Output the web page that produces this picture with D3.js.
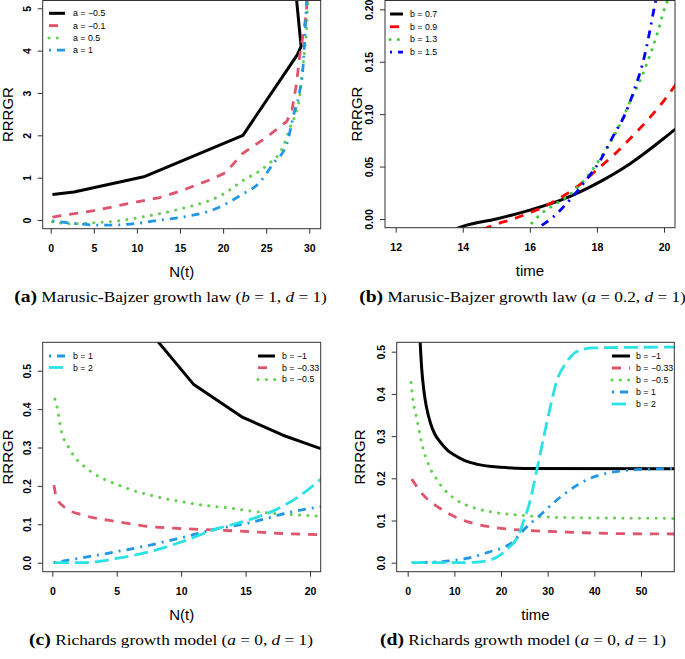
<!DOCTYPE html>
<html><head><meta charset="utf-8">
<script src="https://cdn.jsdelivr.net/npm/d3@7"></script>
<style>body{margin:0;background:#fff}svg{display:block}</style>
</head><body>
<svg id="chart" width="685" height="659"></svg>
<script>
// ---------------- DATA ----------------
// Panel (a): Marusic-Bajzer growth law (b = 1, d = 1), x = N(t)
const aLabels = ["a = \u22120.5", "a = \u22120.1", "a = 0.5", "a = 1"];
const aSerM05 = [[0.2,0.6],[2.7,0.66],[10.8,1.02],[22.3,2.0],[28.6,3.9],[29.05,4.1],[27.9,6.5]];
const aSerM01 = [[0.2,0.07],[5,0.22],[10,0.43],[12.5,0.52],[15,0.68],[18.5,0.95],[20.3,1.12],[22.2,1.56],[25,1.95],[27.4,2.33],[28,2.6],[28.5,3.2],[28.9,3.9],[29.3,4.4],[29.6,4.8],[29.85,5.4]];
const aSer05 = [[0.2,-0.04],[2.3,-0.09],[5.3,-0.06],[7.5,-0.03],[10,0.05],[15,0.26],[20,0.61],[22.3,0.93],[25,1.28],[27,1.75],[27.8,2.2],[28.4,2.5],[28.9,2.95],[29.1,3.3],[29.5,4.1],[29.7,4.55],[29.85,5.4]];
const aSer1 = [[0.2,-0.02],[2.6,-0.08],[5.7,-0.12],[6.8,-0.12],[10,-0.08],[12.7,0.0],[15,0.06],[19.2,0.27],[22,0.58],[24.3,0.9],[25.8,1.33],[27.4,1.8],[28.2,2.5],[28.8,2.95],[29.3,3.7],[29.5,4.4],[29.75,5.4]];
const aXTicks = [0,5,10,15,20,25,30];
const aYTicks = [0,1,2,3,4,5];

// Panel (b): Marusic-Bajzer growth law (a = 0.2, d = 1), x = time
const bLabels = ["b = 0.7", "b = 0.9", "b = 1.3", "b = 1.5"];
const bSer07 = [[13.6,-0.012],[14,-0.007],[15,0.0],[16,0.0085],[17,0.019],[18,0.034],[19,0.053],[20,0.077],[20.5,0.09]];
const bSer09 = [[14.6,-0.01],[15,-0.005],[15.5,0.0],[16,0.006],[16.5,0.013],[17,0.022],[17.5,0.033],[18,0.047],[18.5,0.061],[19,0.077],[19.5,0.094],[20,0.113],[20.5,0.135]];
const bSer13 = [[15.9,-0.01],[16.3,0.004],[16.7,0.013],[17.1,0.021],[17.7,0.04],[18.2,0.063],[18.7,0.091],[19,0.113],[19.3,0.133],[19.6,0.158],[19.8,0.177],[20.03,0.202],[20.2,0.215]];
const bSer15 = [[16.15,-0.01],[16.7,0.002],[17.1,0.015],[17.6,0.034],[18.1,0.056],[18.5,0.08],[18.84,0.1],[19.1,0.122],[19.4,0.153],[19.55,0.175],[19.7,0.2],[19.8,0.215]];
const bXTicks = [12,14,16,18,20];
const bYTicks = [0,0.05,0.1,0.15,0.2];

// Panel (c): Richards growth model (a = 0, d = 1), x = N(t)
const cLabelsL = ["b = 1", "b = 2"];
const cLabelsR = ["b = \u22121", "b = \u22120.33", "b = \u22120.5"];
const cSerM1 = [[7.6,0.6],[10.95,0.465],[14.7,0.38],[17.9,0.332],[21,0.295]];
const cSerM033 = [[0.13,0.202],[0.34,0.168],[1.1,0.141],[2.4,0.124],[5,0.107],[7.6,0.094],[10,0.089],[12.8,0.085],[15.3,0.081],[17.9,0.076],[21,0.073]];
const cSerM05 = [[0.2,0.426],[0.39,0.402],[0.54,0.374],[0.65,0.35],[1.24,0.302],[1.63,0.28],[2.66,0.246],[3.18,0.233],[4.48,0.211],[5,0.204],[6.3,0.188],[7.58,0.176],[8.87,0.166],[10.2,0.158],[11.46,0.151],[12.76,0.146],[14.05,0.141],[15.3,0.135],[16.6,0.13],[18.2,0.126],[19.2,0.124],[21,0.121]];
const cSer1 = [[0.1,0.0],[2,0.011],[5,0.029],[7.6,0.046],[10,0.065],[12.75,0.088],[15.3,0.104],[16.6,0.115],[17.9,0.127],[21,0.147]];
const cSer2 = [[0.2,0.0],[2.4,0.0],[5,0.011],[7.6,0.029],[10,0.054],[12.75,0.088],[15.3,0.112],[17.15,0.135],[19.2,0.174],[21,0.222]];
const cXTicks = [0,5,10,15,20];
const cYTicks = [0,0.1,0.2,0.3,0.4,0.5];

// Panel (d): Richards growth model (a = 0, d = 1), x = time
const dLabels = ["b = \u22121", "b = \u22120.33", "b = \u22120.5", "b = 1", "b = 2"];
const dSerM1 = [[2.5,0.56],[3.0,0.46],[3.5,0.405],[4.0,0.37],[4.9,0.33],[5.8,0.305],[6.9,0.287],[8.5,0.267],[10,0.255],[12,0.243],[15,0.233],[20,0.226],[25,0.2235],[57.5,0.2225]];
const dSerM033 = [[0.86,0.198],[3.36,0.16],[6.9,0.129],[10.5,0.107],[14.1,0.093],[17.6,0.085],[24.8,0.077],[31.9,0.0735],[42.6,0.0695],[57.5,0.068]];
const dSerM05 = [[0.7,0.427],[1.2,0.38],[1.8,0.35],[2.5,0.31],[3.3,0.27],[4.2,0.24],[5.2,0.215],[6.2,0.198],[7.3,0.18],[8.4,0.167],[10.5,0.148],[13.7,0.132],[15.5,0.126],[19.8,0.117],[22.6,0.114],[28.4,0.109],[35.5,0.1066],[57.5,0.105]];
const dSer1 = [[0.86,0],[6.9,0.0024],[12.6,0.01],[17.6,0.026],[20.5,0.036],[22.6,0.05],[24.8,0.077],[28.4,0.113],[31.9,0.148],[35.5,0.178],[39.1,0.2],[42.6,0.212],[46.2,0.218],[57.5,0.2235]];
const dSer2 = [[0.86,0],[10.5,0],[14.1,0.001],[17.6,0.006],[19.8,0.018],[21.9,0.038],[23.4,0.058],[24.8,0.097],[26.2,0.145],[27.6,0.216],[29.1,0.295],[30.5,0.366],[31.9,0.429],[34.1,0.476],[36.2,0.5],[39.8,0.509],[57.5,0.511]];
const dXTicks = [0,10,20,30,40,50];
const dYTicks = [0,0.1,0.2,0.3,0.4,0.5];

// Captions
const captions = [
  [["(a)","b"],[" Marusic-Bajzer growth law (",""],["b","i"],[" = 1, ",""],["d","i"],[" = 1)",""]],
  [["(b)","b"],[" Marusic-Bajzer growth law (",""],["a","i"],[" = 0.2, ",""],["d","i"],[" = 1)",""]],
  [["(c)","b"],[" Richards growth model (",""],["a","i"],[" = 0, ",""],["d","i"],[" = 1)",""]],
  [["(d)","b"],[" Richards growth model (",""],["a","i"],[" = 0, ",""],["d","i"],[" = 1)",""]]
];

// ---------------- STYLES ----------------
const COL = {black:"#000000", red:"#DF536B", green:"#61D04F", blue:"#2297E6", cyan:"#28E2E5",
             pred:"#FF0000", pgreen:"#3FCB3F", pblue:"#0000FF"};
const LTY = {
  solid:   {dash:null, w:3, cap:"butt"},
  dashed:  {dash:"9,8", w:2.8, cap:"butt"},
  dotted:  {dash:"0.1,8.2", w:3, cap:"round"},
  dotdash: {dash:"2,6,8,6", w:2.8, cap:"butt"},
  longdash:{dash:"14,6", w:2.8, cap:"butt"}
};
const AXC = "#333";
const svg = d3.select("#chart");

function styleLine(sel, col, lty){
  const s = LTY[lty];
  sel.attr("fill","none").attr("stroke",col).attr("stroke-width",s.w)
     .attr("stroke-linecap",s.cap).attr("stroke-linejoin","round");
  if (s.dash) sel.attr("stroke-dasharray",s.dash);
}

function drawPanel(p){
  const x = d3.scaleLinear().domain(p.xAnch).range(p.xPix);
  const y = d3.scaleLinear().domain(p.yAnch).range(p.yPix);
  const [L,T,R,B] = p.box;
  const g = svg.append("g");
  const cid = "clip_"+p.id;
  svg.append("clipPath").attr("id",cid).append("rect")
     .attr("x",L).attr("y",T).attr("width",R-L).attr("height",B-T);
  const lg = g.append("g").attr("clip-path",`url(#${cid})`);
  p.series.forEach(s=>{
    const line = d3.line().x(d=>x(d[0])).y(d=>y(d[1])).curve(s.curve || d3.curveMonotoneX);
    lg.append("path").datum(s.data).attr("d",line).call(styleLine, s.col, s.lty);
  });
  g.append("rect").attr("x",L).attr("y",T).attr("width",R-L).attr("height",B-T)
    .attr("fill","none").attr("stroke",AXC).attr("stroke-width",1);

  const xa = d3.axisBottom(x).tickValues(p.xTicks).tickSize(5).tickSizeOuter(0).tickFormat(p.xFmt);
  const gx = g.append("g").attr("transform",`translate(0,${B})`).call(xa);
  gx.select(".domain").remove();
  gx.selectAll(".tick line").attr("stroke",AXC);
  gx.selectAll(".tick text").attr("y",15.5).attr("dy","0.71em")
    .attr("fill","#000").attr("font-family","Liberation Sans, Arial, sans-serif")
    .attr("font-weight","bold").attr("font-size",10.5);

  const ya = d3.axisLeft(y).tickValues(p.yTicks).tickSize(5).tickSizeOuter(0).tickFormat(p.yFmt);
  const gy = g.append("g").attr("transform",`translate(${L},0)`).call(ya);
  gy.select(".domain").remove();
  gy.selectAll(".tick line").attr("stroke",AXC);
  gy.selectAll(".tick text").attr("x",0).attr("y",-12.2).attr("dy",null)
    .attr("transform","rotate(-90)").attr("text-anchor","middle")
    .attr("fill","#000").attr("font-family","Liberation Sans, Arial, sans-serif")
    .attr("font-weight","bold").attr("font-size",10.5);

  // axis titles
  g.append("text").attr("x",(L+R)/2).attr("y",B+48).attr("text-anchor","middle")
    .attr("font-family","Liberation Sans, Arial, sans-serif").attr("font-size",15).text(p.xTitle);
  g.append("text").attr("transform",`translate(${p.yTitleX},${(T+B)/2}) rotate(-90)`)
    .attr("text-anchor","middle")
    .attr("font-family","Liberation Sans, Arial, sans-serif").attr("font-size",15).text("RRRGR");

  // legends
  p.legends.forEach(lgd=>{
    lgd.items.forEach((it,i)=>{
      const yy = lgd.y0 + i*lgd.dy;
      g.append("line").attr("x1",lgd.x0).attr("x2",lgd.x1).attr("y1",yy).attr("y2",yy)
        .call(styleLine, it.col, it.lty);
      g.append("text").attr("x",lgd.tx).attr("y",yy).attr("dy","0.35em")
        .attr("font-family","Liberation Sans, Arial, sans-serif").attr("font-size",8.8)
        .text(it.label);
    });
  });
}

const panels = [
  {id:"a", box:[42.7,0.5,320.7,228.7], xAnch:[0,30], xPix:[50.7,309.3], yAnch:[0,5], yPix:[220,8.3],
   xTicks:aXTicks, yTicks:aYTicks, xFmt:d3.format("d"), yFmt:d3.format("d"), xTitle:"N(t)", yTitleX:12.5,
   series:[
     {data:aSerM05, col:COL.black, lty:"solid", curve:d3.curveLinear},
     {data:aSerM01, col:COL.red, lty:"dashed", curve:d3.curveLinear},
     {data:aSer05, col:COL.green, lty:"dotted"},
     {data:aSer1, col:COL.blue, lty:"dotdash"}],
   legends:[{x0:49,x1:65,tx:73,y0:13.3,dy:12.3, items:[
     {label:aLabels[0],col:COL.black,lty:"solid"},{label:aLabels[1],col:COL.red,lty:"dashed"},
     {label:aLabels[2],col:COL.green,lty:"dotted"},{label:aLabels[3],col:COL.blue,lty:"dotdash"}]}]},
  {id:"b", box:[385,0.5,675,227.7], xAnch:[12,20], xPix:[395.7,664], yAnch:[0,0.2], yPix:[219,9.3],
   xTicks:bXTicks, yTicks:bYTicks, xFmt:d3.format("d"), yFmt:d3.format(".2f"), xTitle:"time", yTitleX:362,
   series:[
     {data:bSer07, col:COL.black, lty:"solid"},
     {data:bSer09, col:COL.pred, lty:"dashed"},
     {data:bSer13, col:COL.pgreen, lty:"dotted"},
     {data:bSer15, col:COL.pblue, lty:"dotdash"}],
   legends:[{x0:390,x1:403,tx:410,y0:14,dy:12.7, items:[
     {label:bLabels[0],col:COL.black,lty:"solid"},{label:bLabels[1],col:COL.pred,lty:"dashed"},
     {label:bLabels[2],col:COL.pgreen,lty:"dotted"},{label:bLabels[3],col:COL.pblue,lty:"dotdash"}]}]},
  {id:"c", box:[42.7,342.3,320.7,571.7], xAnch:[0,20], xPix:[52.3,310], yAnch:[0,0.5], yPix:[562.7,370.7],
   xTicks:cXTicks, yTicks:cYTicks, xFmt:d3.format("d"), yFmt:d3.format(".1f"), xTitle:"N(t)", yTitleX:12.5,
   series:[
     {data:cSerM1, col:COL.black, lty:"solid", curve:d3.curveLinear},
     {data:cSerM033, col:COL.red, lty:"dashed"},
     {data:cSerM05, col:COL.green, lty:"dotted"},
     {data:cSer1, col:COL.blue, lty:"dotdash"},
     {data:cSer2, col:COL.cyan, lty:"longdash"}],
   legends:[
     {x0:49,x1:68,tx:73,y0:356,dy:11.5, items:[
       {label:cLabelsL[0],col:COL.blue,lty:"dotdash"},{label:cLabelsL[1],col:COL.cyan,lty:"longdash"}]},
     {x0:258,x1:275,tx:282,y0:356,dy:11.7, items:[
       {label:cLabelsR[0],col:COL.black,lty:"solid"},{label:cLabelsR[1],col:COL.red,lty:"dashed"},
       {label:cLabelsR[2],col:COL.green,lty:"dotted"}]}]},
  {id:"d", box:[396.7,342.3,674.3,571.7], xAnch:[0,50], xPix:[407.7,641], yAnch:[0,0.5], yPix:[562.7,351.7],
   xTicks:dXTicks, yTicks:dYTicks, xFmt:d3.format("d"), yFmt:d3.format(".1f"), xTitle:"time", yTitleX:365,
   series:[
     {data:dSerM1, col:COL.black, lty:"solid"},
     {data:dSerM033, col:COL.red, lty:"dashed"},
     {data:dSerM05, col:COL.green, lty:"dotted"},
     {data:dSer1, col:COL.blue, lty:"dotdash"},
     {data:dSer2, col:COL.cyan, lty:"longdash"}],
   legends:[{x0:612,x1:630,tx:636,y0:356,dy:12, items:[
     {label:dLabels[0],col:COL.black,lty:"solid"},{label:dLabels[1],col:COL.red,lty:"dashed"},
     {label:dLabels[2],col:COL.green,lty:"dotted"},{label:dLabels[3],col:COL.blue,lty:"dotdash"},
     {label:dLabels[4],col:COL.cyan,lty:"longdash"}]}]}
];
panels.forEach(drawPanel);

// captions: [centerX, baselineY]; common horizontal scale taken from caption (a) width (313px)
const capPos = [[170.5,302],[522.5,302],[171,645],[523,645]];
const capNodes = captions.map((parts,i)=>{
  const t = svg.append("text").attr("text-anchor","middle").attr("x",0).attr("y",0)
    .attr("font-family","Liberation Serif, 'DejaVu Serif', serif").attr("font-size",14.5).attr("fill","#000");
  parts.forEach(([s,k])=>{
    const ts = t.append("tspan").text(s);
    if (k==="b") ts.attr("font-weight","bold").attr("font-size",16.5);
    if (k==="i") ts.attr("font-style","italic");
  });
  return t;
});
const sx = 313 / capNodes[0].node().getBBox().width;
capNodes.forEach((t,i)=>{
  const [cx,by] = capPos[i];
  t.attr("transform",`translate(${cx},${by}) scale(${sx},1)`);
});
</script>
</body></html>
